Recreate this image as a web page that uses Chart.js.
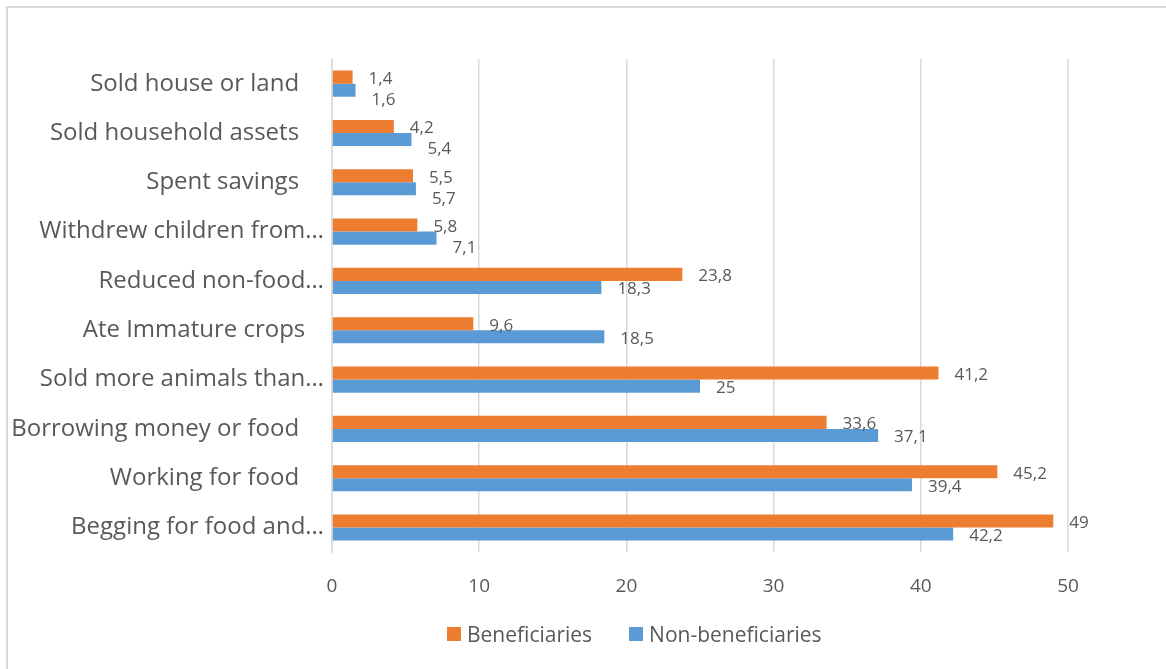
<!DOCTYPE html>
<html lang="en">
<head>
    <meta charset="UTF-8">
    <title>Coping strategies</title>
    <script src="https://cdn.jsdelivr.net/npm/chart.js"></script>
    <style>
        body {
            margin: 0;
            padding: 0;
            background: #fff;
            overflow: hidden;
            font-family: 'Open Sans', sans-serif;
        }
        /* light frame like the Excel chart border */
        .frame {
            position: absolute;
            left: 6px;
            top: 6px;
            width: 1200px;
            height: 700px;
            border: 2px solid #d9d9d9;
        }
        .wrap {
            position: absolute;
            left: 0;
            top: 0;
            width: 1166px;
            height: 669px;
        }
        #legend {
            position: absolute;
            left: 447px;
            top: 619px;
            display: flex;
            align-items: center;
            color: #595959;
            font-size: 21px;
            line-height: 30px;
        }
        #legend .item {
            display: flex;
            align-items: center;
            margin-right: 37px;
        }
        #legend .box {
            width: 14px;
            height: 14px;
            margin-right: 6px;
        }
    </style>
</head>
<body>
    <div class="frame"></div>
    <div class="wrap">
        <canvas id="chart" width="1166" height="669"></canvas>
    </div>
    <div id="legend"></div>

<script>
// categories, top to bottom (trailing spaces as in the source labels)
const categories = [
    "Sold house or land    ",
    "Sold household assets    ",
    "Spent savings    ",
    "Withdrew children from…",
    "Reduced non-food…",
    "Ate Immature crops   ",
    "Sold more animals than…",
    "Borrowing money or food    ",
    "Working for food    ",
    "Begging for food and…"
];
const beneficiaries = [1.4, 4.2, 5.5, 5.8, 23.8, 9.6, 41.2, 33.6, 45.2, 49];
const nonBeneficiaries = [1.6, 5.4, 5.7, 7.1, 18.3, 18.5, 25, 37.1, 39.4, 42.2];
const xTicks = [0, 10, 20, 30, 40, 50];

const textColor = "#595959";
const fontFamily = "'Open Sans', sans-serif";

// value labels at the bar ends, pushed down a bit when they would collide
const valueLabels = {
    id: "valueLabels",
    afterDatasetsDraw(chart) {
        const ctx = chart.ctx;
        ctx.save();
        ctx.font = "17px " + fontFamily;
        ctx.fillStyle = textColor;
        ctx.textAlign = "left";
        ctx.textBaseline = "middle";
        const m0 = chart.getDatasetMeta(0).data;
        const m1 = chart.getDatasetMeta(1).data;
        const d0 = chart.data.datasets[0].data;
        const d1 = chart.data.datasets[1].data;
        for (let i = 0; i < m0.length; i++) {
            const t0 = String(d0[i]).replace(".", ",");
            const t1 = String(d1[i]).replace(".", ",");
            const x0 = m0[i].x + 16;
            const x1 = m1[i].x + 16;
            const y0 = m0[i].y + 2;
            let y1 = m1[i].y + 2;
            const w0 = ctx.measureText(t0).width;
            const w1 = ctx.measureText(t1).width;
            if (x1 < x0 + w0 && x0 < x1 + w1 && y1 - y0 < 21) {
                y1 = y0 + 21;
            }
            ctx.fillText(t0, x0, y0);
            ctx.fillText(t1, x1, y1);
        }
        ctx.restore();
    }
};

const ctx = document.getElementById("chart").getContext("2d");
const chart = new Chart(ctx, {
    type: "bar",
    data: {
        labels: categories,
        datasets: [
            {
                label: "Beneficiaries",
                data: beneficiaries,
                backgroundColor: "#ED7D31",
                categoryPercentage: 0.53,
                barPercentage: 1
            },
            {
                label: "Non-beneficiaries",
                data: nonBeneficiaries,
                backgroundColor: "#5B9BD5",
                categoryPercentage: 0.53,
                barPercentage: 1
            }
        ]
    },
    options: {
        indexAxis: "y",
        responsive: false,
        animation: false,
        layout: {
            padding: { top: 59, right: 98, bottom: 48, left: 0 }
        },
        scales: {
            x: {
                min: 0,
                max: 50,
                afterBuildTicks(scale) {
                    scale.ticks = xTicks.map(v => ({ value: v }));
                },
                grid: {
                    color: "#d9d9d9",
                    lineWidth: 1.5,
                    drawTicks: false
                },
                border: { display: false },
                ticks: {
                    color: textColor,
                    font: { family: fontFamily, size: 19 },
                    padding: 23
                }
            },
            y: {
                afterFit(scale) {
                    scale.width = 332;
                },
                grid: { display: false },
                border: { display: true, color: "#d9d9d9", width: 1.5 },
                ticks: {
                    color: textColor,
                    font: { family: fontFamily, size: 24 },
                    padding: 0,
                    autoSkip: false
                }
            }
        },
        plugins: {
            legend: { display: false },
            tooltip: { enabled: false }
        }
    },
    plugins: [valueLabels]
});

// legend built from the datasets
const legendEl = document.getElementById("legend");
chart.data.datasets.forEach(ds => {
    const item = document.createElement("div");
    item.className = "item";
    item.innerHTML = `<span class="box" style="background:${ds.backgroundColor}"></span><span>${ds.label}</span>`;
    legendEl.appendChild(item);
});
</script>
</body>
</html>
